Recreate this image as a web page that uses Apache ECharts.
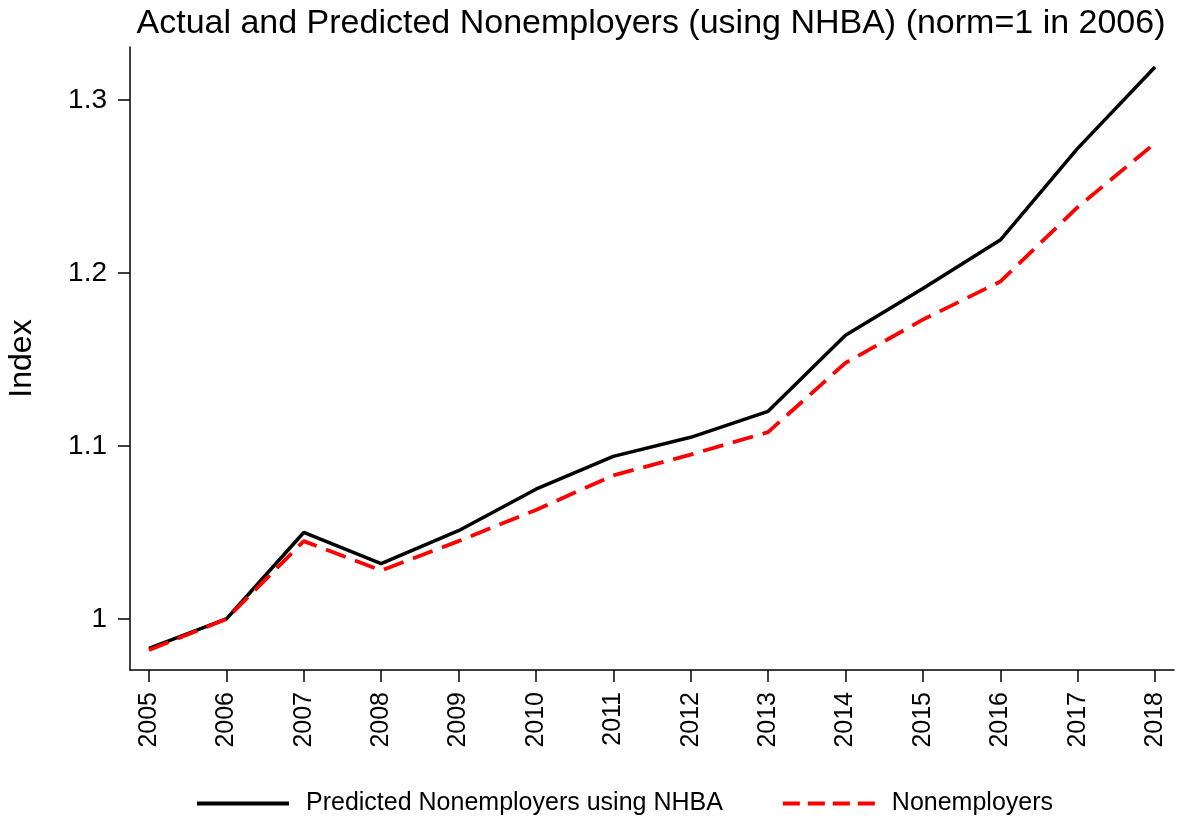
<!DOCTYPE html>
<html>
<head>
<meta charset="utf-8">
<script src="https://cdn.jsdelivr.net/npm/echarts@6/dist/echarts.min.js"></script>
<style>
  html, body { margin: 0; padding: 0; background: #fff; }
  #container { width: 1186px; height: 825px; }
</style>
</head>
<body>
<div id="container"></div>
<script>
var years = [2005, 2006, 2007, 2008, 2009, 2010, 2011, 2012, 2013, 2014, 2015, 2016, 2017, 2018];
var predicted = [0.983, 1.000, 1.050, 1.032, 1.051, 1.075, 1.094, 1.105, 1.120, 1.164, 1.191, 1.219, 1.272, 1.319];
var actual = [0.982, 1.000, 1.045, 1.028, 1.045, 1.063, 1.083, 1.095, 1.108, 1.148, 1.173, 1.195, 1.238, 1.275];
var yTicks = [1, 1.1, 1.2, 1.3];

var dom = document.getElementById('container');
var myChart = echarts.init(dom, null, { renderer: 'canvas' });

function pairs(vals) {
  return years.map(function (y, i) { return [y, vals[i]]; });
}

var font = 'Liberation Sans, Arial, sans-serif';

var option = {
  animation: false,
  backgroundColor: '#fff',
  textStyle: { fontFamily: font },
  title: {
    text: 'Actual and Predicted Nonemployers (using NHBA) (norm=1 in 2006)',
    left: 646,
    textAlign: 'center',
    top: 2,
    textStyle: { fontFamily: font, fontSize: 34, fontWeight: 'normal', color: '#000' }
  },
  legend: {
    bottom: 4,
    left: 192,
    itemWidth: 92,
    itemHeight: 4,
    itemGap: 60,
    textStyle: { fontFamily: font, fontSize: 25, color: '#000', padding: [0, 0, 0, 12] },
    data: [
      { name: 'Predicted Nonemployers using NHBA', icon: 'path://M0,0h92v4h-92z' },
      { name: 'Nonemployers', icon: 'path://M0,0h17v4h-17zM25,0h17v4h-17zM50,0h17v4h-17zM75,0h17v4h-17z' }
    ]
  },
  grid: { left: 130, right: 12, top: 47, bottom: 155, outerBoundsMode: 'none', containLabel: false },
  xAxis: {
    type: 'value',
    min: 2004.755,
    max: 2018.245,
    axisLine: { onZero: false, lineStyle: { color: '#000', width: 1.5 } },
    axisTick: { show: true, customValues: years, length: 12, lineStyle: { color: '#000', width: 1.5 } },
    axisLabel: {
      customValues: years,
      formatter: function (v) { return String(v); },
      rotate: 90,
      margin: 22,
      fontSize: 25,
      color: '#000',
      fontFamily: font
    },
    splitLine: { show: false }
  },
  yAxis: {
    type: 'value',
    min: 0.9705,
    max: 1.3306,
    name: 'Index',
    nameLocation: 'middle',
    nameGap: 92,
    nameTextStyle: { fontSize: 32, color: '#000', fontFamily: font },
    axisLine: { show: true, lineStyle: { color: '#000', width: 1.5 } },
    axisTick: { show: true, customValues: yTicks, length: 12, lineStyle: { color: '#000', width: 1.5 } },
    axisLabel: {
      customValues: yTicks,
      margin: 23,
      fontSize: 28,
      color: '#000',
      fontFamily: font
    },
    splitLine: { show: false }
  },
  series: [
    {
      name: 'Predicted Nonemployers using NHBA',
      type: 'line',
      data: pairs(predicted),
      symbol: 'none',
      itemStyle: { color: '#000' },
      lineStyle: { color: '#000', width: 3.5 }
    },
    {
      name: 'Nonemployers',
      type: 'line',
      data: pairs(actual),
      symbol: 'none',
      itemStyle: { color: '#ff0000' },
      lineStyle: { color: '#ff0000', width: 3.8, type: [21, 10] }
    }
  ]
};

myChart.setOption(option);
window.addEventListener('resize', myChart.resize);
</script>
</body>
</html>
